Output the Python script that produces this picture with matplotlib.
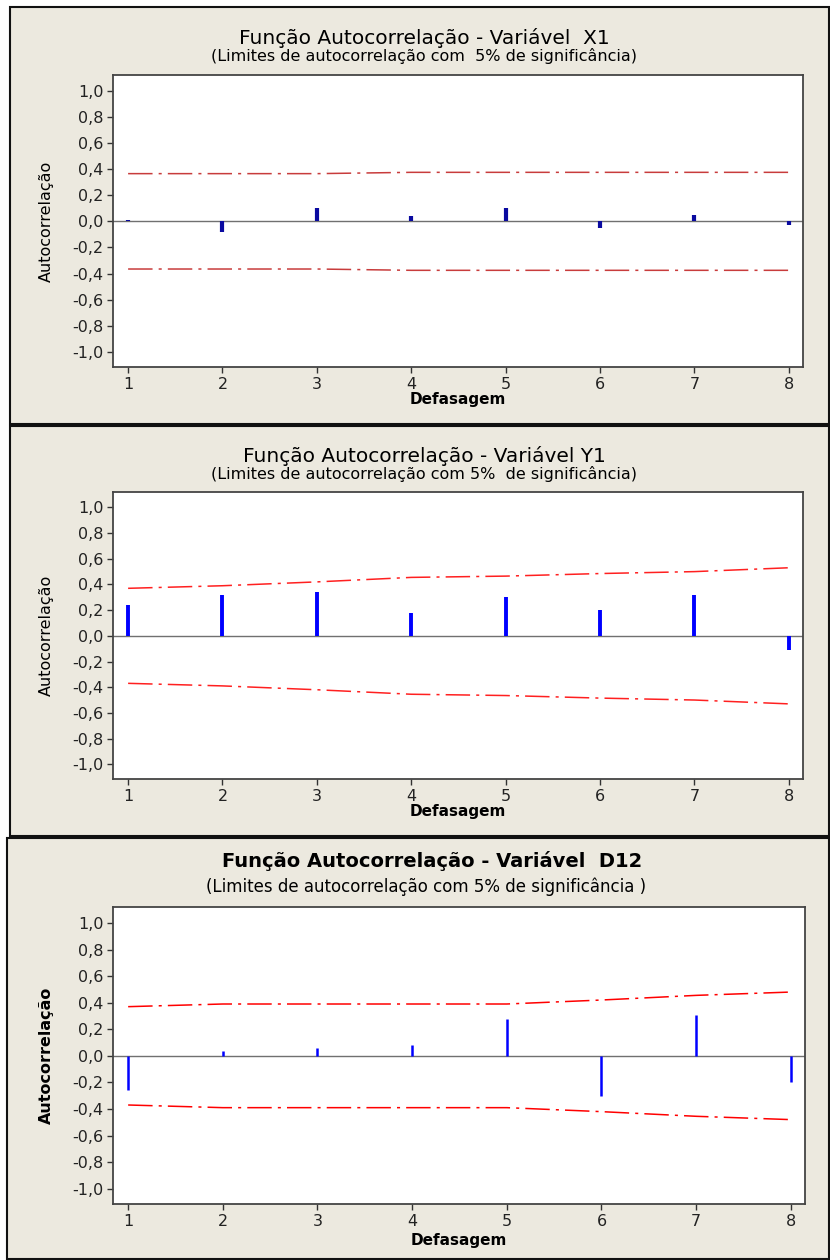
import numpy as np
import matplotlib
matplotlib.use("Agg")
import matplotlib.pyplot as plt
from matplotlib.patches import Rectangle

lags = [1, 2, 3, 4, 5, 6, 7, 8]

acf_x1 = [0.01, -0.08, 0.10, 0.04, 0.10, -0.05, 0.05, -0.03]
lim_x1 = [0.365, 0.365, 0.365, 0.375, 0.375, 0.375, 0.375, 0.375]

acf_y1 = [0.24, 0.32, 0.34, 0.18, 0.30, 0.20, 0.32, -0.11]
lim_y1 = [0.37, 0.39, 0.42, 0.455, 0.465, 0.485, 0.50, 0.53]

acf_d12 = [-0.26, 0.04, 0.06, 0.08, 0.28, -0.30, 0.31, -0.20]
lim_d12 = [0.37, 0.39, 0.39, 0.39, 0.39, 0.42, 0.455, 0.48]

titles = [
    "Função Autocorrelação - Variável  X1",
    "Função Autocorrelação - Variável Y1",
    "Função Autocorrelação - Variável  D12",
]
subtitles = [
    "(Limites de autocorrelação com  5% de significância)",
    "(Limites de autocorrelação com 5%  de significância)",
    "(Limites de autocorrelação com 5% de significância )",
]

W, H = 830, 1260
BG = "#ece9df"

fig = plt.figure(figsize=(W / 100, H / 100), dpi=100)
fig.patch.set_facecolor("white")

# panel frames (pixel boxes: x0, y0 top, x1, y1 bottom)
frames = [(10, 7, 829, 424), (10, 426, 829, 836), (7, 838, 829, 1259)]
for x0, y0, x1, y1 in frames:
    fig.patches.append(Rectangle((x0 / W, 1 - y1 / H), (x1 - x0) / W, (y1 - y0) / H,
                                 transform=fig.transFigure, facecolor=BG,
                                 edgecolor="#111111", linewidth=1.5, zorder=-5))

# axes boxes in pixels: left, top, right, bottom
boxes = [(113, 75, 803, 367), (113, 492, 803, 779), (113, 907, 805, 1204)]
series = [(acf_x1, lim_x1), (acf_y1, lim_y1), (acf_d12, lim_d12)]
bar_colors = ["#0a0aa0", "#0000ff", "#0000ff"]
bar_widths = [3.0, 2.8, 1.8]
lim_colors = ["#c83c3c", "#ff2020", "#ff0000"]

for i, ((l, t, r, b), (acf, lim)) in enumerate(zip(boxes, series)):
    ax = fig.add_axes([l / W, 1 - b / H, (r - l) / W, (b - t) / H])
    ax.set_zorder(2)
    ax.set_facecolor("white")
    ax.set_xlim(0.84, 8.15)
    ax.set_ylim(-1.115, 1.12)

    ax.axhline(0, color="#707070", linewidth=1.0, zorder=1)
    ax.vlines(lags, 0, acf, color=bar_colors[i], linewidth=bar_widths[i], zorder=3)

    lim = np.array(lim)
    for sign in (1, -1):
        ax.plot(lags, sign * lim, color=lim_colors[i], linewidth=1.1,
                dashes=(16, 4, 2, 4), zorder=2)

    yt = np.arange(-1.0, 1.01, 0.2)
    ax.set_yticks(yt)
    ax.set_yticklabels([f"{v:.1f}".replace(".", ",").replace("-0,0", "0,0") for v in yt])
    ax.set_xticks(lags)
    ax.tick_params(direction="out", length=4, width=1, color="#333333",
                   labelsize=11.5, labelcolor="#222222", pad=3)
    for s in ax.spines.values():
        s.set_color("#444444")
        s.set_linewidth(1.3)

    bold = "bold" if i == 2 else "normal"
    ax.set_xlabel("Defasagem", fontsize=11, fontweight="bold",
                  labelpad=3 if i == 2 else 0.5)
    ax.set_ylabel("Autocorrelação", fontsize=11.5, fontweight=bold, labelpad=13)

    if i == 2:
        fig.text(432 / W, 1 - 861 / H, titles[i], ha="center", va="center",
                 fontsize=14, fontweight="bold")
        fig.text(426 / W, 1 - 887 / H, subtitles[i], ha="center", va="center",
                 fontsize=12)
    else:
        ty = [38, 456][i]
        fig.text(424 / W, 1 - ty / H, titles[i], ha="center", va="center", fontsize=14.5)
        fig.text(424 / W, 1 - (ty + 18) / H, subtitles[i], ha="center", va="center",
                 fontsize=11.5)

fig.savefig("out.png", dpi=100, facecolor=fig.get_facecolor())
